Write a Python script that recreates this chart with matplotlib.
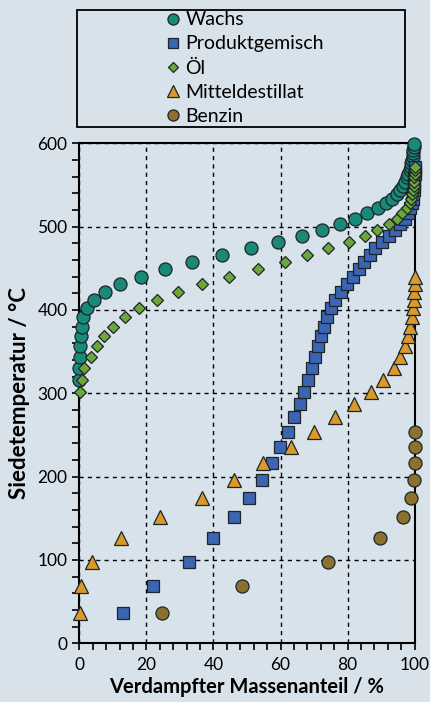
import matplotlib
matplotlib.use("Agg")
import matplotlib.pyplot as plt
from matplotlib.patches import Rectangle
from matplotlib.ticker import MultipleLocator

plt.rcParams['font.family'] = ['Lato', 'DejaVu Sans']

# Siedeverlauf der Fraktionen: verdampfter Anteil (%) gegen Siedetemperatur (°C)
wachs_x = [0.0, 0.0, 0.2, 0.3, 0.5, 0.7, 1.0, 2.2, 4.4, 7.7,
           12.1, 18.4, 25.6, 33.5, 42.5, 51.3, 59.2, 66.3, 72.5, 77.8,
           82.3, 85.9, 89.0, 91.3, 93.3, 94.7, 95.7, 96.5, 97.2, 97.7,
           98.1, 98.5, 98.8, 99.0, 99.2, 99.4, 99.5, 99.6, 99.7, 99.7]
wachs_y = [316, 330, 343, 357, 369, 380, 391, 402, 412, 422,
           431, 440, 449, 458, 466, 474, 481, 489, 496, 503,
           509, 516, 522, 528, 533, 539, 544, 549, 554, 559,
           563, 568, 572, 576, 580, 584, 588, 592, 596, 599]

produkt_x = [12.9, 21.9, 32.7, 40.0, 46.0, 50.7, 54.4, 57.4, 59.9, 62.3,
             64.0, 65.7, 67.1, 68.2, 69.4, 70.4, 71.3, 72.1, 73.0, 73.8,
             75.1, 76.3, 78.0, 79.8, 81.5, 83.3, 85.0, 86.6, 88.3, 90.3,
             92.2, 94.0, 95.6, 97.0, 98.0, 98.7, 99.1, 99.4, 99.6, 99.7,
             99.8, 99.9, 99.9, 100, 100, 100]
produkt_y = [36, 69, 98, 126, 151, 174, 196, 216, 235, 254,
             271, 287, 302, 316, 330, 343, 357, 369, 380, 391,
             402, 412, 422, 431, 440, 449, 458, 466, 474, 481,
             489, 496, 503, 509, 516, 522, 528, 533, 539, 544,
             549, 554, 559, 563, 568, 572]

oel_x = [0.2, 0.7, 1.4, 3.4, 5.4, 7.4, 10.1, 13.6, 17.8, 23.3,
         29.4, 36.5, 44.5, 53.3, 61.2, 67.8, 74.3, 80.3, 85.1, 88.8,
         92.2, 94.7, 96.2, 97.7, 98.5, 99.0, 99.3, 99.5, 99.7, 99.8,
         99.9, 100, 100, 100]
oel_y = [302, 316, 330, 343, 357, 369, 380, 391, 402, 412,
         422, 431, 440, 449, 458, 466, 474, 481, 489, 496,
         503, 509, 516, 522, 528, 533, 539, 544, 549, 554,
         559, 563, 568, 572]

mittel_x = [0.2, 0.4, 3.9, 12.4, 24.1, 36.5, 46.2, 54.9, 63.2, 70.1,
            76.1, 81.8, 87.0, 90.6, 93.7, 95.7, 97.2, 98.0, 98.7, 99.2,
            99.6, 99.8, 99.9, 100, 100]
mittel_y = [36, 69, 98, 126, 151, 174, 196, 216, 235, 254,
            271, 287, 302, 316, 330, 343, 357, 369, 380, 391,
            402, 412, 422, 431, 440]

benzin_x = [24.6, 48.5, 74.1, 89.6, 96.4, 98.9, 99.9, 100, 100, 100]
benzin_y = [36, 69, 98, 126, 151, 174, 196, 216, 235, 254]

bg = '#d8e2eb'
edge = '#1e2428'

fig = plt.figure(figsize=(4.30, 7.02), dpi=100, facecolor=bg)
ax = fig.add_axes([0.1844, 0.0836, 0.7800, 0.7123])
ax.set_facecolor(bg)

series = [
    (wachs_x, wachs_y, 'o', '#178a79', 9.4, 'Wachs'),
    (produkt_x, produkt_y, 's', '#3b65b3', 9.0, 'Produktgemisch'),
    (oel_x, oel_y, 'D', '#6aa83c', 6.4, 'Öl'),
    (mittel_x, mittel_y, '^', '#d99a2b', 9.6, 'Mitteldestillat'),
    (benzin_x, benzin_y, 'o', '#8c702d', 9.4, 'Benzin'),
]
handles = []
for x, y, m, c, ms, lab in series:
    h, = ax.plot(x, y, ls='none', marker=m, ms=ms, mfc=c, mec=edge,
                 mew=0.9, label=lab, clip_on=False, zorder=4)
    handles.append(h)

ax.set_xlim(0, 100)
ax.set_ylim(0, 600)
ax.xaxis.set_major_locator(MultipleLocator(20))
ax.xaxis.set_minor_locator(MultipleLocator(4))
ax.yaxis.set_major_locator(MultipleLocator(100))
ax.yaxis.set_minor_locator(MultipleLocator(20))
ax.tick_params(which='both', direction='out', length=5, width=1.2,
               labelsize=12.5, color='black', top=False, right=False)
ax.tick_params(axis='x', pad=5)

ax.grid(True, which='major', color='black', ls=(0, (3, 3)), lw=1.0)
ax.set_axisbelow(True)
for s in ax.spines.values():
    s.set_linewidth(1.5)
    s.set_zorder(3)

ax.set_xlabel('Verdampfter Massenanteil / %', fontsize=14.5,
              fontweight='bold', labelpad=3)
ax.set_ylabel('Siedetemperatur / °C', fontsize=16,
              fontweight='bold', labelpad=5)

# Legendenkasten oberhalb des Diagramms
fig.patches.append(Rectangle((77 / 430, 1 - 126.5 / 702), 328 / 430, 117 / 702,
                             transform=fig.transFigure, fill=False,
                             ec='black', lw=1.3))
fig.legend(handles=handles, loc='center', bbox_to_anchor=(0.57, 1 - 68 / 702),
           frameon=False, fontsize=14, handlelength=0.7, handletextpad=0.3,
           labelspacing=0.36, borderpad=0, markerscale=0.85)

fig.savefig('out.png', dpi=100, facecolor=bg)
